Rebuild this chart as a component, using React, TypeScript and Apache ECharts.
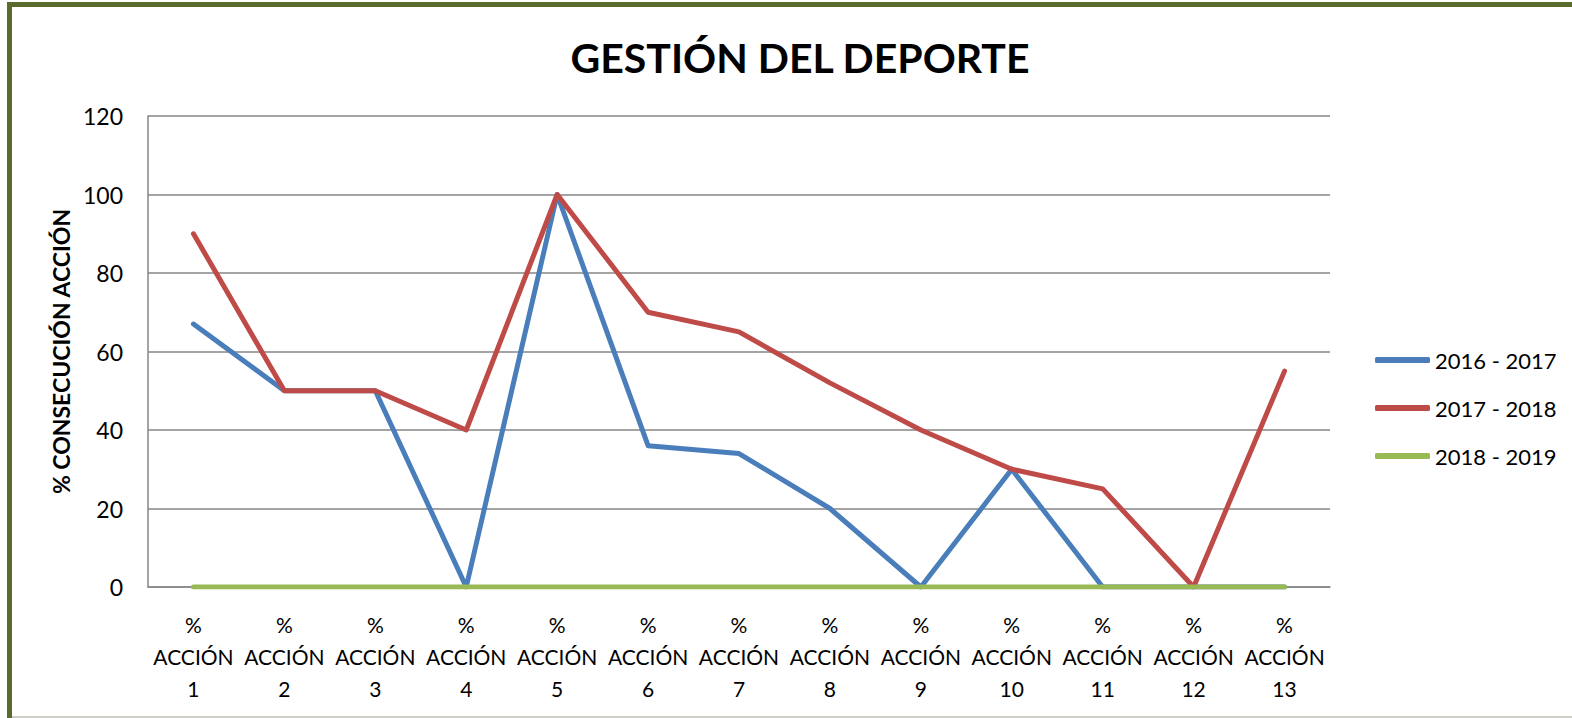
import React, { useEffect, useRef } from "react";
import * as echarts from "echarts";

const categories = [
  "%\nACCIÓN\n1", "%\nACCIÓN\n2", "%\nACCIÓN\n3", "%\nACCIÓN\n4", "%\nACCIÓN\n5",
  "%\nACCIÓN\n6", "%\nACCIÓN\n7", "%\nACCIÓN\n8", "%\nACCIÓN\n9", "%\nACCIÓN\n10",
  "%\nACCIÓN\n11", "%\nACCIÓN\n12", "%\nACCIÓN\n13",
];
const s2016 = [67, 50, 50, 0, 100, 36, 34, 20, 0, 30, 0, 0, 0];
const s2017 = [90, 50, 50, 40, 100, 70, 65, 52, 40, 30, 25, 0, 55];
const s2018 = [0, 0, 0, 0, 0, 0, 0, 0, 0, 0, 0, 0, 0];
const seriesNames = ["2016 - 2017", "2017 - 2018", "2018 - 2019"];
const colors = ["#4a7ebb", "#be4b48", "#98b954"];
const yTicks = { min: 0, max: 120, interval: 20 };

const FONT = "Lato, 'Open Sans', sans-serif";

export default function App() {
  const ref = useRef<HTMLDivElement>(null);
  useEffect(() => {
    if (!ref.current) return;
    const chart = echarts.init(ref.current, undefined, { renderer: "svg" });
    const values = [s2016, s2017, s2018];
    chart.setOption({
      animation: false,
      backgroundColor: "#ffffff",
      title: {
        text: "GESTIÓN DEL DEPORTE",
        left: 795,
        textAlign: "center",
        top: 32,
        textStyle: { fontFamily: FONT, fontWeight: "bold", fontSize: 41, color: "#000" },
      },
      grid: { left: 148, right: 242, top: 116, bottom: 131, containLabel: false },
      legend: {
        orient: "vertical",
        left: 1370,
        top: 343,
        itemWidth: 55,
        itemHeight: 6,
        itemGap: 24,
        icon: "roundRect",
        data: seriesNames,
        textStyle: { fontFamily: FONT, fontSize: 22, color: "#000", lineHeight: 24 },
      },
      xAxis: {
        type: "category",
        data: categories,
        boundaryGap: true,
        axisLine: { lineStyle: { color: "#868686", width: 1.5 } },
        axisTick: { show: false },
        axisLabel: {
          interval: 0,
          margin: 21,
          fontFamily: FONT,
          fontSize: 21,
          lineHeight: 32,
          color: "#000",
        },
      },
      yAxis: {
        type: "value",
        min: yTicks.min,
        max: yTicks.max,
        interval: yTicks.interval,
        name: "% CONSECUCIÓN ACCIÓN",
        nameLocation: "middle",
        nameGap: 74,
        nameRotate: 90,
        nameTextStyle: { fontFamily: FONT, fontWeight: "bold", fontSize: 23, color: "#000" },
        axisLine: { show: true, lineStyle: { color: "#868686", width: 1.5 } },
        axisTick: { show: false },
        splitLine: { lineStyle: { color: "#868686", width: 1.5 } },
        axisLabel: { margin: 25, fontFamily: FONT, fontSize: 23, color: "#000" },
      },
      series: seriesNames.map((n, i) => ({
        name: n,
        type: "line",
        data: values[i],
        symbol: "none",
        color: colors[i],
        lineStyle: { width: 5, color: colors[i], cap: "round", join: "round" },
      })),
      graphic: [
        { type: "rect", shape: { x: 7, y: 2, width: 1565, height: 5 }, style: { fill: "#5a6b2e" }, z: 100 },
        { type: "rect", shape: { x: 7, y: 2, width: 5, height: 716 }, style: { fill: "#5a6b2e" }, z: 100 },
        { type: "rect", shape: { x: 12, y: 716, width: 1560, height: 2 }, style: { fill: "#cfcfc8" }, z: 100 },
      ],
    });
    return () => chart.dispose();
  }, []);
  return (
    <div
      ref={ref}
      style={{ position: "fixed", left: 0, top: 0, width: 1572, height: 718 }}
    />
  );
}
